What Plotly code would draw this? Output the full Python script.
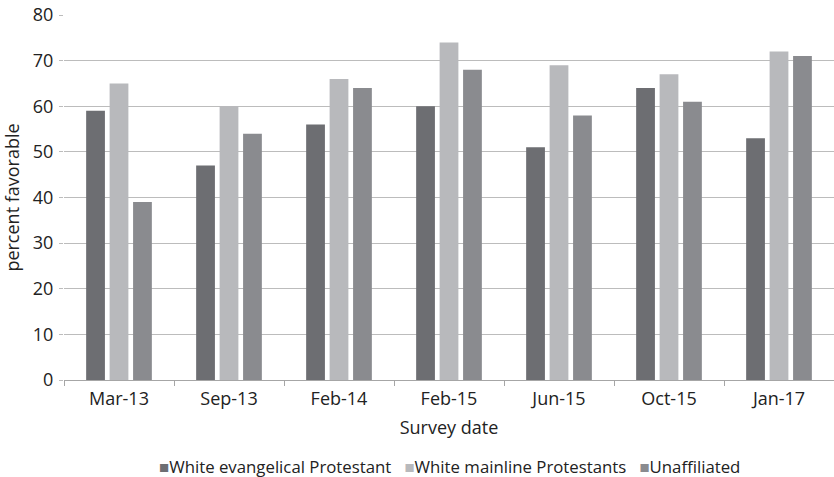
import plotly.graph_objects as go

categories = ["Mar-13", "Sep-13", "Feb-14", "Feb-15", "Jun-15", "Oct-15", "Jan-17"]
evangelical = [59, 47, 56, 60, 51, 64, 53]
mainline = [65, 60, 66, 74, 69, 67, 72]
unaffiliated = [39, 54, 64, 68, 58, 61, 71]

series = [
    ("White evangelical Protestant", evangelical, "#6d6e72"),
    ("White mainline Protestants", mainline, "#b8b9bc"),
    ("Unaffiliated", unaffiliated, "#8a8b8f"),
]

fig = go.Figure()
for name, vals, color in series:
    fig.add_trace(go.Bar(x=categories, y=vals, name=name, showlegend=False,
                         marker=dict(color=color, line=dict(width=0))))

# compact legend row: coloured square glyph followed by the series name
legend_text = "   ".join(
    f"<span style='color:{color}'>■</span>{name}" for name, _, color in series
)
fig.add_annotation(text=legend_text, xref="paper", yref="paper", x=0.5, y=-0.238,
                   xanchor="center", yanchor="middle", showarrow=False,
                   font=dict(size=16.8, color="#222222"))

font = "Open Sans, Liberation Sans, sans-serif"
fig.update_layout(
    width=834, height=477,
    margin=dict(l=64, r=0, t=15, b=97, autoexpand=False),
    plot_bgcolor="white", paper_bgcolor="white",
    barmode="group", bargap=0.36, bargroupgap=0.2,
    font=dict(family=font, color="#222222", size=18),
)
fig.update_xaxes(
    title=dict(text="Survey date", font=dict(size=18), standoff=12),
    showline=True, linecolor="#a6a6a6", linewidth=1,
    ticks="outside", tickson="boundaries", ticklen=5, tickcolor="#a6a6a6",
    tickfont=dict(size=18), ticklabelstandoff=2, showgrid=False, automargin=False,
)
fig.update_yaxes(
    title=dict(text="percent favorable", font=dict(size=18), standoff=8),
    range=[0, 80], dtick=10, tickfont=dict(size=18),
    showgrid=True, gridcolor="#bcbcbc", gridwidth=1.2,
    zeroline=False, showline=False,
    ticks="outside", ticklen=4, tickcolor="#bcbcbc", ticklabelstandoff=2,
    automargin=False,
)

fig.write_html("out.html")
